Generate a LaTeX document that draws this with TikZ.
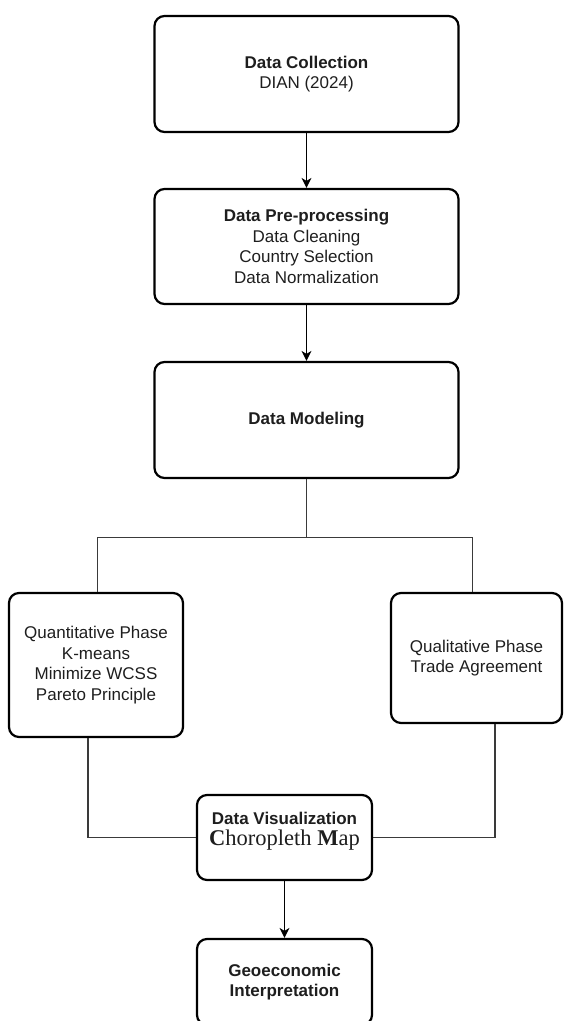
\documentclass[tikz,border=0pt]{standalone}
\usepackage{fontspec}
\setmainfont{Liberation Sans}
\newfontfamily\serifchoro{Liberation Serif}
\usetikzlibrary{arrows.meta}
\definecolor{txt}{HTML}{1E1E1E}
\definecolor{linkgray}{HTML}{3A3A3A}
\tikzset{
  box/.style={draw=black, line width=2.2pt, rounded corners=10pt, inner sep=0pt,
    align=center, text=txt, font=\fontsize{17}{20.5}\selectfont},
  arr/.style={draw=black, line width=1.4pt, -{Stealth[length=10pt,width=10pt,inset=3pt]}},
  link/.style={draw=linkgray, line width=1.2pt}
}
\begin{document}
\begin{tikzpicture}[x=1pt,y=-1pt]
\useasboundingbox (0,0) rectangle (563,1021);
\node[box, minimum width=304pt, minimum height=116pt] (collect) at (306.5,74)
  {\textbf{Data Collection}\\DIAN (2024)};
\node[box, minimum width=304pt, minimum height=115pt] (prep) at (306.5,246.5)
  {\textbf{Data Pre-processing}\\Data Cleaning\\Country Selection\\Data Normalization};
\node[box, minimum width=304pt, minimum height=116pt] (model) at (306.5,420)
  {\textbf{Data Modeling}};
\node[box, minimum width=174pt, minimum height=144pt] (quant) at (96,665)
  {Quantitative Phase\\K-means\\Minimize WCSS\\Pareto Principle};
\node[box, minimum width=171pt, minimum height=130pt] (qual) at (476.5,658)
  {Qualitative Phase\\Trade Agreement};
\node[box, minimum width=175pt, minimum height=85pt] (vis) at (284.5,837.5)
  {\textbf{Data Visualization}\\[1pt]{\serifchoro\fontsize{22.5}{26}\selectfont\textbf{C}horopleth \textbf{M}ap}\rule[-17pt]{0pt}{17pt}};
\node[box, minimum width=175pt, minimum height=86pt] (geo) at (284.5,982)
  {\textbf{Geoeconomic}\\\textbf{Interpretation}};
\draw[arr] (collect.south) -- (prep.north);
\draw[arr] (prep.south) -- (model.north);
\draw[link] (model.south) -- ++(0,58) coordinate (split);
\draw[link] (split) -| ([xshift=1.7pt]quant.north);
\draw[link] (split) -| ([xshift=-3.8pt]qual.north);
\draw[link] ([xshift=-8pt]quant.south) |- (vis.west);
\draw[link] ([xshift=18.5pt]qual.south) |- (vis.east);
\draw[arr] (vis.south) -- (geo.north);
\end{tikzpicture}
\end{document}
